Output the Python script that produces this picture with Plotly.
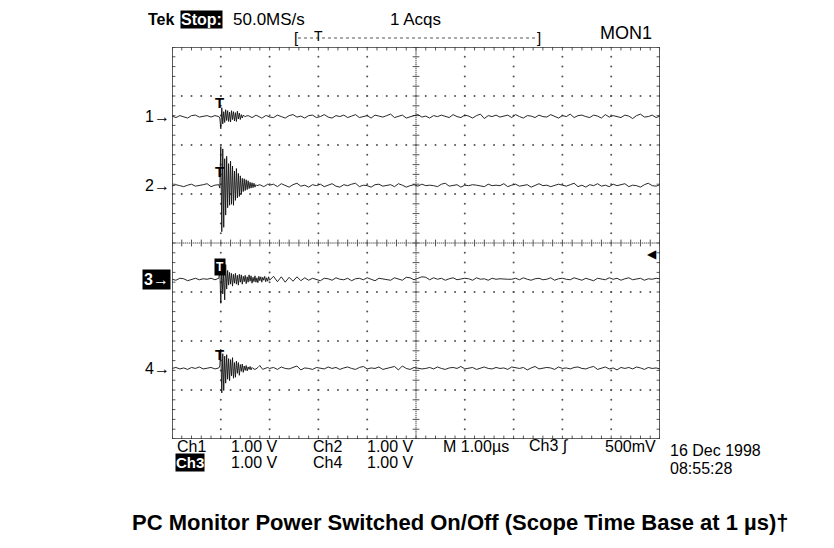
import numpy as np
import plotly.graph_objects as go

# ---------------- data (volts, 1 V/div) ----------------
t_pre = np.round(np.arange(12) * 0.08, 2)           # 0.00 .. 0.88 us
t_burst = np.round(0.96 + np.arange(53) * 0.02, 2)  # 0.96 .. 2.00 us
t_post = np.round(2.08 + np.arange(100) * 0.08, 2)  # 2.08 .. 10.00 us
time_us = np.concatenate([t_pre, t_burst, t_post])

ch1_pre = [0.01, -0.02, 0.02, 0.00, -0.03, 0.02, 0.03, -0.01, 0.01, 0.02, -0.01, 0.02]
ch1_burst = [0.00, -0.03, -0.25, 0.18, -0.15, 0.10, -0.12, 0.14, -0.08, 0.12,
             -0.10, 0.09, -0.11, 0.12, -0.06, 0.10, -0.09, 0.08, -0.10, 0.11,
             -0.05, 0.07, -0.06, 0.04, -0.03, 0.03, 0.01, 0.00, 0.01, 0.02,
             0.02, 0.01, 0.00, -0.01, -0.02, -0.01, 0.00, 0.02, 0.03, 0.02,
             0.01, 0.00, 0.00, -0.02, -0.03, -0.02, 0.00, 0.01, 0.02, 0.02,
             0.01, 0.00, -0.01]
ch1_post = [-0.02, 0.03, 0.00, -0.03, 0.02, 0.04, -0.01, 0.01, -0.03, 0.02,
            0.03, -0.02, 0.00, 0.04, -0.01, -0.03, 0.02, 0.00, 0.03, -0.02,
            0.01, 0.04, -0.02, 0.00, 0.02, -0.03, 0.03, 0.01, -0.01, 0.02,
            0.05, -0.02, 0.01, 0.03, -0.03, 0.00, 0.02, 0.04, -0.01, 0.01,
            -0.03, 0.02, 0.00, 0.03, 0.01, -0.02, 0.04, 0.00, -0.02, 0.03,
            0.01, -0.03, 0.02, 0.05, -0.04, 0.02, 0.00, 0.03, -0.01, 0.01,
            0.03, -0.02, 0.04, 0.00, -0.03, 0.02, 0.01, -0.02, 0.03, 0.00,
            -0.01, 0.04, 0.01, -0.03, 0.02, 0.00, 0.05, -0.02, 0.02, 0.03,
            0.00, -0.02, 0.03, 0.01, -0.03, 0.04, -0.01, 0.02, 0.00, -0.02,
            0.03, 0.01, -0.04, 0.02, 0.05, -0.01, 0.00, 0.03, -0.02, 0.01]

ch2_pre = [-0.01, 0.02, 0.00, -0.02, 0.01, 0.03, -0.01, 0.00, 0.02, 0.04, -0.02, 0.01]
ch2_burst = [0.02, -0.05, 0.80, -0.94, 0.75, -0.85, 0.55, -0.60, 0.60, -0.45,
             0.45, -0.40, 0.50, -0.38, 0.40, -0.40, 0.30, -0.30, 0.35, -0.25,
             0.25, -0.22, 0.20, -0.18, 0.15, -0.12, 0.14, -0.10, 0.12, -0.08,
             0.10, -0.06, 0.07, -0.05, 0.06, -0.04, 0.05, -0.03, 0.02, 0.00,
             0.01, 0.02, 0.02, 0.01, 0.00, -0.01, -0.02, -0.01, 0.00, 0.02,
             0.03, 0.02, 0.01]
ch2_post = [0.03, -0.02, 0.04, 0.00, -0.03, 0.02, 0.05, -0.01, 0.01, -0.03,
            0.02, 0.00, 0.03, -0.02, 0.01, 0.04, -0.01, -0.03, 0.02, 0.00,
            0.03, 0.05, -0.02, 0.01, 0.00, -0.03, 0.02, 0.03, -0.01, 0.00,
            0.02, -0.02, 0.04, 0.01, -0.03, 0.00, 0.02, -0.01, 0.03, 0.00,
            0.01, 0.00, -0.02, 0.03, 0.05, -0.01, 0.00, 0.02, -0.03, 0.01,
            0.00, 0.02, 0.01, 0.00, -0.02, 0.03, 0.00, 0.01, 0.00, 0.04,
            -0.02, 0.01, 0.03, -0.01, 0.00, 0.02, -0.03, 0.01, 0.04, 0.00,
            0.01, -0.02, 0.00, 0.03, 0.01, -0.01, 0.02, 0.05, -0.02, 0.01,
            -0.03, 0.02, 0.00, 0.04, -0.01, 0.01, -0.02, 0.03, 0.00, 0.02,
            0.04, -0.02, 0.01, 0.00, -0.03, 0.02, 0.05, 0.00, -0.01, 0.02]

ch3_pre = [0.00, -0.02, 0.02, 0.01, -0.03, 0.00, 0.02, -0.01, 0.01, 0.00, 0.02, -0.01]
ch3_burst = [0.02, 0.20, -0.49, 0.25, -0.30, 0.15, -0.42, 0.30, -0.20, 0.18,
             -0.12, 0.14, -0.10, 0.12, -0.14, 0.10, -0.08, 0.12, -0.10, 0.08,
             -0.12, 0.10, -0.06, 0.09, -0.10, 0.06, -0.05, 0.08, -0.09, 0.05,
             -0.06, 0.09, -0.04, 0.07, -0.08, 0.04, -0.05, 0.07, -0.06, 0.03,
             -0.07, 0.06, -0.03, 0.05, -0.06, 0.04, -0.02, 0.06, -0.05, 0.03,
             -0.04, 0.05, -0.02]
ch3_post = [0.06, -0.05, 0.05, -0.06, 0.04, -0.04, 0.05, -0.03, 0.03, -0.02,
            0.02, 0.00, -0.03, 0.02, 0.01, -0.02, 0.03, 0.00, -0.01, 0.02,
            -0.03, 0.01, 0.02, -0.01, 0.03, 0.00, -0.03, 0.02, 0.01, 0.00,
            -0.02, 0.03, 0.01, -0.02, 0.04, 0.03, -0.01, 0.02, 0.05, 0.04,
            -0.01, 0.03, 0.00, 0.02, -0.02, 0.01, 0.03, -0.01, 0.00, 0.02,
            0.01, -0.02, 0.03, 0.00, 0.01, -0.02, 0.02, 0.00, 0.01, 0.00,
            0.00, 0.00, 0.02, -0.01, 0.03, 0.00, -0.02, 0.01, 0.02, -0.01,
            0.00, 0.03, -0.02, 0.01, 0.02, 0.00, -0.01, 0.03, 0.01, -0.02,
            0.02, 0.00, -0.03, 0.02, 0.01, -0.01, 0.03, 0.00, 0.02, -0.02,
            0.01, 0.03, -0.01, 0.00, 0.02, -0.02, 0.01, 0.00, 0.02, 0.01]

ch4_pre = [0.00, 0.02, -0.01, 0.01, -0.02, 0.02, 0.00, 0.03, -0.01, 0.01, 0.02, -0.01]
ch4_burst = [0.01, 0.05, 0.39, -0.50, 0.30, -0.45, 0.25, -0.30, 0.28, -0.22,
             0.20, -0.25, 0.18, -0.15, 0.22, -0.20, 0.12, -0.18, 0.15, -0.10,
             0.12, -0.14, 0.08, -0.06, 0.09, -0.08, 0.05, -0.04, 0.06, -0.05,
             0.03, -0.02, 0.04, -0.03, 0.02, 0.00, -0.01, -0.02, -0.01, 0.00,
             0.02, 0.04, 0.06, 0.03, 0.00, -0.02, -0.01, 0.00, 0.01, 0.02,
             0.02, 0.01, 0.00]
ch4_post = [0.02, -0.02, 0.03, 0.00, -0.01, 0.02, 0.05, -0.03, 0.01, 0.00,
            -0.02, 0.02, 0.01, -0.01, 0.03, 0.00, 0.02, -0.02, 0.01, 0.03,
            0.00, -0.02, 0.02, 0.04, -0.01, 0.01, 0.00, 0.03, -0.02, 0.00,
            0.01, 0.04, -0.03, 0.05, 0.00, -0.02, 0.02, 0.01, -0.01, 0.00,
            0.02, -0.01, 0.03, 0.00, -0.02, 0.01, 0.02, 0.00, 0.04, -0.01,
            0.00, 0.02, -0.02, 0.01, 0.03, 0.00, -0.01, 0.02, 0.00, 0.01,
            -0.02, 0.03, 0.01, 0.00, 0.02, -0.03, 0.01, 0.04, -0.01, 0.00,
            0.02, 0.01, -0.02, 0.03, 0.00, 0.01, -0.01, 0.02, 0.03, 0.00,
            -0.01, 0.02, 0.04, -0.02, 0.00, 0.03, -0.01, 0.01, -0.03, 0.02,
            0.00, 0.02, -0.01, 0.03, 0.01, -0.02, 0.02, 0.00, 0.01, -0.01]

channel_names = ["1", "2", "3", "4"]
channel_values = [ch1_pre + ch1_burst + ch1_post,
                  ch2_pre + ch2_burst + ch2_post,
                  ch3_pre + ch3_burst + ch3_post,
                  ch4_pre + ch4_burst + ch4_post]
trigger_time_us = 1.0

# ---------------- layout helpers (positions/styles) ----------------
W, H = 834, 548
BODY = 8                      # default page margin of the html body
L, R, T, B = 172, 660, 47, 439
channel_offsets = [2.58, 1.17, -0.74, -2.56]   # screen position in divisions


def px(x):
    return (x - L) / (R - L)


def py(y):
    return (B - y) / (B - T)


fig = go.Figure()

# graticule dots
gx, gy = [], []
for yl in [-3, -2, -1, 1, 2, 3]:
    for xs in np.arange(0, 10.001, 0.2):
        gx.append(xs); gy.append(yl)
for xl in [1, 2, 3, 4, 6, 7, 8, 9]:
    for ys in np.arange(-4, 4.001, 0.2):
        gx.append(xl); gy.append(ys)
fig.add_trace(go.Scatter(x=gx, y=gy, mode="markers",
                         marker=dict(size=2, color="#555555"),
                         hoverinfo="skip", showlegend=False))

# center cross (fine dotted)
cx, cy = [], []
for xs in np.arange(0, 10.001, 0.04):
    cx.append(xs); cy.append(0)
for ys in np.arange(-4, 4.001, 0.04):
    cx.append(5); cy.append(ys)
fig.add_trace(go.Scatter(x=cx, y=cy, mode="markers",
                         marker=dict(size=1.6, color="#777777"),
                         hoverinfo="skip", showlegend=False))

# tick marks on center lines and border
tx, ty = [], []
tk = 0.07
for xs in np.arange(0, 10.001, 0.2):
    tx += [xs, xs, None]; ty += [-tk, tk, None]
    tx += [xs, xs, None]; ty += [4, 4 - tk, None]
    tx += [xs, xs, None]; ty += [-4, -4 + tk, None]
for ys in np.arange(-4, 4.001, 0.2):
    tx += [5 - tk, 5 + tk, None]; ty += [ys, ys, None]
    tx += [0, tk, None]; ty += [ys, ys, None]
    tx += [10, 10 - tk, None]; ty += [ys, ys, None]
fig.add_trace(go.Scatter(x=tx, y=ty, mode="lines",
                         line=dict(color="#555555", width=1),
                         hoverinfo="skip", showlegend=False))

# waveforms
for name, vals, off in zip(channel_names, channel_values, channel_offsets):
    fig.add_trace(go.Scatter(x=time_us, y=np.array(vals) + off, mode="lines",
                             line=dict(color="#111111", width=0.9),
                             name="Ch" + name, hoverinfo="skip",
                             showlegend=False))

# border
fig.add_shape(type="rect", xref="x", yref="y", x0=0, x1=10, y0=-4, y1=4,
              line=dict(color="#333333", width=1.6))

ann = []
FONT = "Liberation Sans, Arial, sans-serif"


def text(x, y, s, size=14, color="black", bg=None, anchor="left", bold=False,
         family=FONT, pad=0):
    if bold:
        s = "<b>" + s + "</b>"
    d = dict(xref="paper", yref="paper", x=px(x), y=py(y), text=s,
             showarrow=False, xanchor=anchor, yanchor="middle",
             font=dict(family=family, size=size, color=color))
    if bg:
        d["bgcolor"] = bg
        d["borderpad"] = pad
    ann.append(d)


# trigger markers on waveforms
for i, off in enumerate(channel_offsets):
    if i == 2:
        ann.append(dict(xref="x", yref="y", x=trigger_time_us - 0.02,
                        y=off + 0.25, text="<b>T</b>", showarrow=False,
                        bgcolor="black", borderpad=1,
                        font=dict(family=FONT, size=12, color="white")))
    else:
        ann.append(dict(xref="x", yref="y", x=trigger_time_us - 0.02,
                        y=off + 0.28, text="<b>T</b>", showarrow=False,
                        font=dict(family=FONT, size=15, color="black")))

# channel labels on the left
for i, (name, off) in enumerate(zip(channel_names, channel_offsets)):
    ypx = B - (off + 4) / 8 * (B - T)
    if i == 2:
        text(171, ypx, "<b>" + name + "→</b>", size=16, color="white",
             bg="black", anchor="right", pad=1)
    else:
        text(172, ypx, name + "→", size=16, anchor="right")

# trigger level arrow on right
text(659, 254, "◀", size=12, anchor="right")

# header
text(146, 20, "Tek", size=16, bold=True)
text(180, 20, "Stop:", size=16, color="white", bg="black", bold=True)
text(231, 20, "50.0MS/s", size=17)
text(415, 20, "1 Acqs", size=17, anchor="center")
text(626, 33, "MON1", size=18, anchor="center")
text(292, 37, "[", size=15)
text(535, 37, "]", size=15)
text(318, 36, "T", size=14, anchor="center")
fig.add_shape(type="line", xref="paper", yref="paper", x0=px(298), x1=px(536),
              y0=py(38), y1=py(38), line=dict(color="#555555", width=1,
                                              dash="dot"))

# footer readouts
row1, row2 = 446, 462
FS = 16
text(175, row1, "Ch1", size=FS)
text(229, row1, "1.00 V", size=FS)
text(311, row1, "Ch2", size=FS)
text(365, row1, "1.00 V", size=FS)
text(441, row1, "M 1.00µs", size=FS)
text(527, row1, "Ch3 ∫", size=FS)
text(603, row1, "500mV", size=FS)
text(668, 451, "16 Dec 1998", size=FS)
text(175, row2, "<b>Ch3</b>", size=15, color="white", bg="black")
text(229, row2, "1.00 V", size=FS)
text(311, row2, "Ch4", size=FS)
text(365, row2, "1.00 V", size=FS)
text(668, 468, "08:55:28", size=FS)

# caption
text(460, 522, "PC Monitor Power Switched On/Off (Scope Time Base at 1 µs)†",
     size=22, bold=True, anchor="center", family="Liberation Sans, Arial")

fig.update_layout(
    width=W - BODY, height=H - BODY,
    margin=dict(l=L - BODY, r=W - R, t=T - BODY, b=H - B, pad=0),
    paper_bgcolor="white", plot_bgcolor="white",
    xaxis=dict(range=[0, 10], showgrid=False, zeroline=False,
               showticklabels=False, ticks="", fixedrange=True),
    yaxis=dict(range=[-4, 4], showgrid=False, zeroline=False,
               showticklabels=False, ticks="", fixedrange=True),
    annotations=ann,
    showlegend=False,
)

fig.write_html("out.html")
